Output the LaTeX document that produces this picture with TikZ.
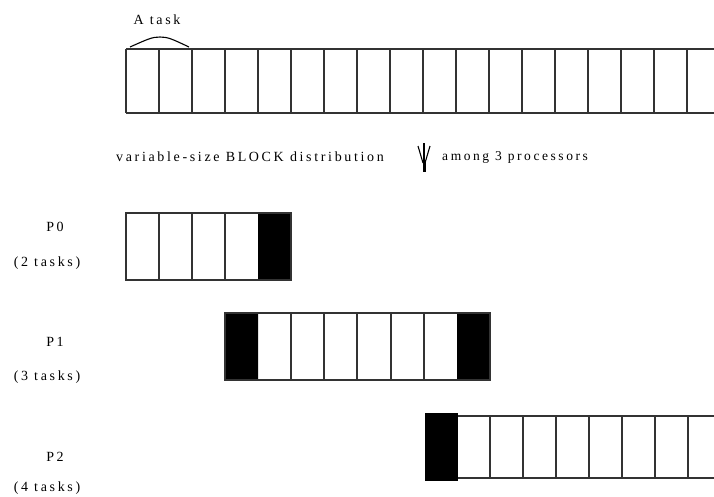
\documentclass[tikz,border=0pt]{standalone}
\usepackage{fontspec}
\setmainfont[LetterSpace=19]{Liberation Serif}
\begin{document}
\begin{tikzpicture}[x=1pt,y=-1pt,
  ln/.style={line width=1.3pt,draw=black!80},
  lbl/.style={font=\fontsize{14}{16}\selectfont,inner sep=0pt}]
\useasboundingbox (0,0) rectangle (714,496);
% top strip
\draw[ln] (126,49) -- (714,49) (126,113) -- (714,113);
\foreach \k in {0,...,17} \draw[ln] ({126+33*\k},49) -- ({126+33*\k},113);
\node[lbl] (atask) at (157,20) {A task};
\draw[line width=1.1pt] (130,47) .. controls (148,39) and (152,37) .. (160,37) .. controls (168,37) and (172,39) .. (189,47);
% distribution line
\node[lbl] (dist) at (250,157) {variable-size BLOCK distribution};
\node[lbl,anchor=west,font=\fontsize{13.5}{16}\selectfont] (among) at (442,157) {among 3 processors};
\coordinate (atop) at (424,143);
\coordinate (abot) at (424,172);
\draw[line width=1.6pt] (atop) -- (abot);
\draw[line width=3pt] (424,160) -- (abot);
\draw[line width=1.1pt] (418,146) -- (423,163) (430,146) -- (425,163);
% P0
\node[lbl] (p0) at (55,227) {P0};
\node[lbl] (p0t) at (47,263) {(2 tasks)};
\fill (258,213) rectangle (291,280);
\draw[ln] (126,213) rectangle (291,280);
\foreach \x in {159,192,225} \draw[ln] (\x,213) -- (\x,280);
% P1
\node[lbl] (p1) at (55,342) {P1};
\node[lbl] (p1t) at (47,377) {(3 tasks)};
\fill (225,313) rectangle (258,380) (457,313) rectangle (490,380);
\draw[ln] (225,313) rectangle (490,380);
\foreach \x in {291,324,357,391,424} \draw[ln] (\x,313) -- (\x,380);
% P2
\node[lbl] (p2) at (55,457) {P2};
\node[lbl] (p2t) at (47,488) {(4 tasks)};
\fill (425,413) rectangle (458,481);
\draw[ln] (458,416) -- (714,416) (458,478) -- (714,478);
\foreach \k in {1,...,7} \draw[ln] ({457+33*\k},416) -- ({457+33*\k},478);
\end{tikzpicture}
\end{document}
